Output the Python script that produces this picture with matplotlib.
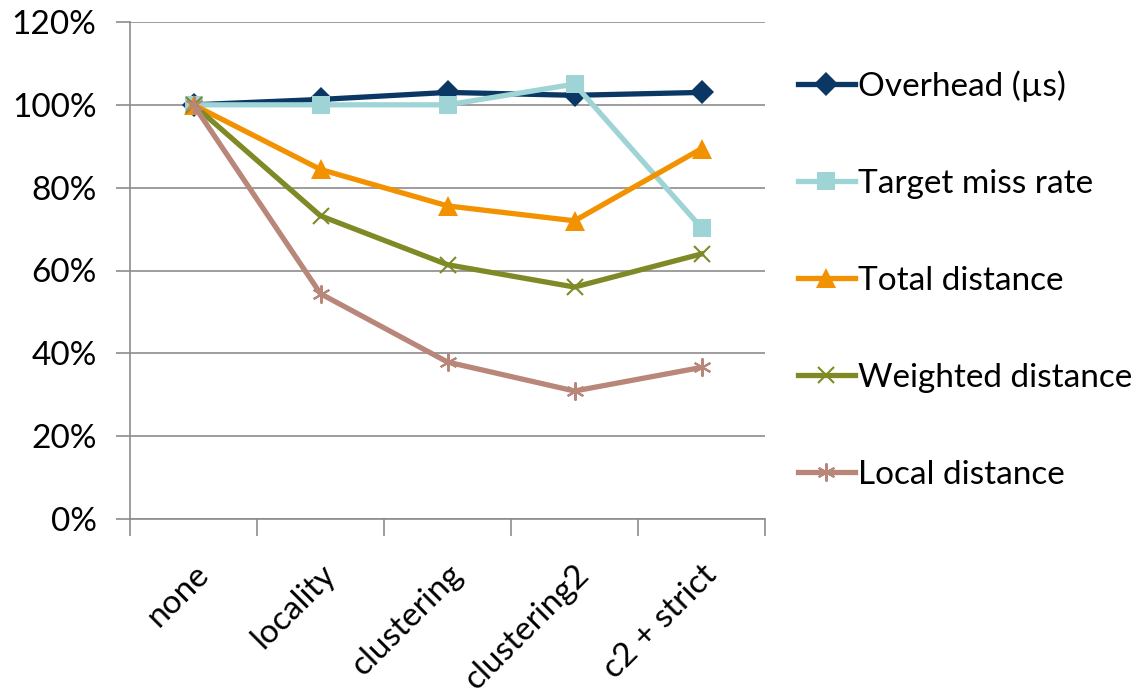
#!/usr/bin/env python3

import matplotlib
matplotlib.use("Agg")
import matplotlib.pyplot as plt
from matplotlib.ticker import FuncFormatter

plt.rcParams['font.family'] = ['Lato', 'DejaVu Sans']

categories = ["none", "locality", "clustering", "clustering2", "c2 + strict"]

overhead = [100, 101.3, 103.0, 102.3, 103.0]
target_miss = [100, 100, 100, 105.0, 70.3]
total_dist = [100, 84.4, 75.6, 72.0, 89.4]
weighted_dist = [100, 73.2, 61.4, 56.0, 64.0]
local_dist = [100, 54.4, 37.9, 30.9, 36.6]

series = [
    ("Overhead (µs)", overhead, "#0b3764", "D", 12),
    ("Target miss rate", target_miss, "#9fd4d6", "s", 13),
    ("Total distance", total_dist, "#f39200", "^", 14),
    ("Weighted distance", weighted_dist, "#7f8a27", "x", 12),
    ("Local distance", local_dist, "#b9877a", (6, 2, 0), 13),
]

fig = plt.figure(figsize=(11.46, 6.97), dpi=100)
ax = fig.add_axes([130 / 1146, 1 - 519 / 697, 635 / 1146, 497 / 697])

x = list(range(len(categories)))
for name, vals, col, mk, ms in series:
    ax.plot(x, vals, color=col, lw=3.8, marker=mk, markersize=ms,
            markeredgewidth=1.5 if mk in ("x", (6, 2, 0)) else 0,
            markeredgecolor=col, label=name, zorder=3)

ax.set_xlim(-0.5, len(categories) - 0.5)
ax.set_ylim(0, 120)
ax.set_yticks(range(0, 121, 20))
ax.yaxis.set_major_formatter(FuncFormatter(lambda v, p: f"{int(v)}%"))
ax.grid(axis="y", color="#8c8c8c", lw=1.2)
ax.set_axisbelow(True)

# category labels sit between boundary ticks
ax.set_xticks([i - 0.5 for i in range(len(categories) + 1)])
ax.set_xticklabels([])
ax.set_xticks(x, minor=True)
ax.set_xticklabels(categories, minor=True, rotation=45, ha="right",
                   rotation_mode="anchor", fontsize=24)
ax.tick_params(axis="x", which="minor", length=0, pad=29)
ax.tick_params(axis="x", which="major", length=12, color="#8c8c8c", width=1.2)
ax.tick_params(axis="y", length=10, color="#8c8c8c", width=1.2,
               labelsize=24, pad=14)

for s in ("top", "right"):
    ax.spines[s].set_visible(False)
for s in ("left", "bottom"):
    ax.spines[s].set_color("#8c8c8c")
    ax.spines[s].set_linewidth(1.2)

ax.legend(loc="upper left", bbox_to_anchor=(798 / 1146, 1 - 70 / 697),
          bbox_transform=fig.transFigure, frameon=False, fontsize=24,
          handlelength=1.7, handletextpad=0.1, labelspacing=2.01,
          borderaxespad=0, borderpad=0)

fig.savefig("out.png", dpi=100)
